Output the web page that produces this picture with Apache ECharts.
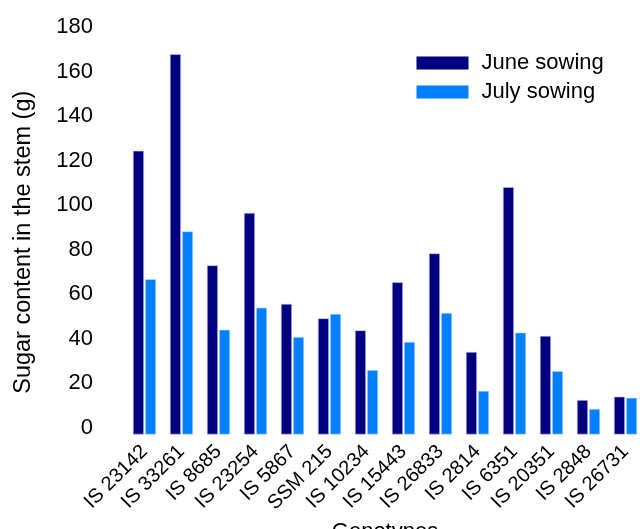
<!DOCTYPE html>
<html>
<head>
<meta charset="utf-8">
<script src="https://cdn.jsdelivr.net/npm/echarts@6/dist/echarts.min.js"></script>
<style>
html,body{margin:0;padding:0;background:#fff;}
#chart{width:640px;height:529px;}
</style>
</head>
<body>
<div id="chart"></div>
<script>
const categories = ["IS 23142","IS 33261","IS 8685","IS 23254","IS 5867","SSM 215","IS 10234","IS 15443","IS 26833","IS 2814","IS 6351","IS 20351","IS 2848","IS 26731"];
const juneSowing = [127.5, 170.9, 76.0, 99.6, 58.7, 52.2, 46.8, 68.4, 81.4, 37.1, 111.2, 44.3, 15.5, 17.0];
const julySowing = [69.8, 91.3, 47.1, 57.0, 43.8, 54.2, 29.0, 41.6, 54.6, 19.6, 45.8, 28.5, 11.5, 16.5];
const seriesNames = ["June sowing", "July sowing"];

const FONT = "Liberation Sans, Arial, sans-serif";
const chart = echarts.init(document.getElementById('chart'));
chart.setOption({
  animation: false,
  backgroundColor: '#ffffff',
  textStyle: { fontFamily: FONT, color: '#000' },
  grid: { left: 126, right: -4, top: 34, bottom: 94.5, containLabel: false, outerBoundsMode: 'none' },
  legend: {
    orient: 'vertical',
    left: 416.5,
    top: 52,
    padding: 0,
    itemWidth: 52,
    itemHeight: 13,
    itemGap: 7,
    icon: 'rect',
    itemStyle: { borderWidth: 0 },
    textStyle: { fontSize: 22, fontFamily: FONT, color: '#000', lineHeight: 22, padding: [0, 0, 0, 8] },
    data: seriesNames
  },
  xAxis: {
    type: 'category',
    data: categories,
    name: 'Genotypes',
    nameLocation: 'middle',
    nameGap: 85,
    nameTextStyle: { fontSize: 22, fontFamily: FONT, color: '#000' },
    axisLine: { show: false },
    axisTick: { show: false },
    axisLabel: { rotate: 45, fontSize: 20, fontFamily: FONT, color: '#000', margin: 14, interval: 0 }
  },
  yAxis: {
    type: 'value',
    min: 0,
    max: 180,
    interval: 20,
    name: 'Sugar content in the stem (g)',
    nameLocation: 'middle',
    nameGap: 90,
    nameTextStyle: { fontSize: 23.5, fontFamily: FONT, color: '#000', padding: [0, 16, 0, 0] },
    axisLine: { show: false },
    axisTick: { show: false },
    splitLine: { show: false },
    axisLabel: { fontSize: 22, fontFamily: FONT, color: '#000', margin: 33, verticalAlign: 'bottom', lineHeight: 14 }
  },
  series: [
    {
      name: seriesNames[0], type: 'bar', data: juneSowing,
      barWidth: 11, barGap: '10%',
      itemStyle: { color: '#000080', borderColor: '#c8c8ee', borderWidth: 0.6 }
    },
    {
      name: seriesNames[1], type: 'bar', data: julySowing,
      barWidth: 11, barGap: '10%',
      itemStyle: { color: '#0080ff', borderColor: '#c8e0ff', borderWidth: 0.6 }
    }
  ]
});
</script>
</body>
</html>
